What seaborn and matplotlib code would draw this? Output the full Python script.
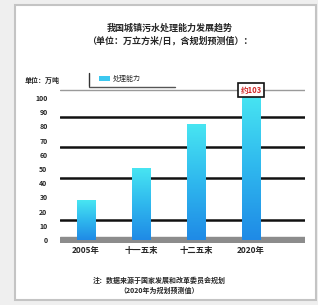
import numpy as np
import pandas as pd
import matplotlib
matplotlib.use("Agg")
import matplotlib.pyplot as plt
from matplotlib.patches import Rectangle, Patch
from matplotlib.lines import Line2D
import seaborn as sns

# ---- data ----
categories = ["2005年", "十一五末", "十二五末", "2020年"]
values = [28, 51, 82, 103]
y_ticks = [0, 10, 20, 30, 40, 50, 60, 70, 80, 90, 100]
grid_levels = [14, 44, 65.5, 86.5]
title_lines = ["我国城镇污水处理能力发展趋势", "（单位：万立方米/日，含规划预测值）："]
unit_label = "单位：万吨"
legend_label = "处理能力"
note_label = "约103"
foot_lines = ["注：数据来源于国家发展和改革委员会规划", "（2020年为规划预测值）"]

sns.set_theme(style="white")
plt.rcParams["font.family"] = ["Noto Sans CJK SC", "DejaVu Sans"]

W, H = 318, 305
fig = plt.figure(figsize=(W / 100, H / 100), dpi=100)
fig.patch.set_facecolor("#efefef")
fig.patches.append(Rectangle((15 / W, 5 / H), 301 / W, 295 / H, transform=fig.transFigure,
                             facecolor="white", edgecolor="#c4c4c4", lw=1.5, zorder=-5))

ax = fig.add_axes([60 / W, (H - 243) / H, 245 / W, 155 / H])
ax.set_zorder(2)
ax.set_facecolor("none")
df = pd.DataFrame({"cat": categories, "val": values})
sns.barplot(data=df, x="cat", y="val", ax=ax, color="#2aa8ea", width=0.33, zorder=3)

XL = (-0.47, 3.98)
YL = (-2.1, 107)

# gradient fill on bars
grad = np.linspace(0, 1, 256).reshape(-1, 1)
cmap = matplotlib.colors.LinearSegmentedColormap.from_list("g", ["#1f8ae6", "#2fb8ee", "#48e6f2"])
for p in ax.patches:
    x0, y0 = p.get_x(), p.get_y()
    w, h = p.get_width(), p.get_height()
    im = ax.imshow(grad, extent=[x0, x0 + w, y0, y0 + h], origin="lower", cmap=cmap,
                   aspect="auto", zorder=3)
    im.set_clip_path(p)
    p.set_facecolor("none")
    p.set_edgecolor("none")
ax.set_xlim(*XL)
ax.set_ylim(*YL)

# grid lines and floor
for g in grid_levels:
    ax.axhline(g, color="#111111", lw=1.8, zorder=1)
ax.axhline(105.5, color="#9a9a9a", lw=1.0, zorder=1)
ax.axhspan(YL[0], 1.8, color="#8c8c8c", zorder=2)

for s in ax.spines.values():
    s.set_visible(False)
ax.set_yticks(y_ticks)
ax.set_yticklabels([str(t) for t in y_ticks], fontsize=5, fontweight="bold")
ax.tick_params(axis="y", length=0, pad=9)
ax.tick_params(axis="x", length=0, pad=2, labelsize=6)
for lbl in ax.get_xticklabels():
    lbl.set_fontweight("bold")
ax.set_xlabel("")
ax.set_ylabel("")

# annotation on last bar
ax.text(3, values[-1] + 2.5, note_label, ha="center", va="center", fontsize=5.5, color="#d02828",
        fontweight="bold",
        bbox=dict(boxstyle="square,pad=0.35", facecolor="white", edgecolor="#111111", lw=1.2), zorder=5)

# title, unit, legend, footnote
fig.text(0.535, (H - 28) / H, title_lines[0], ha="center", va="center", fontsize=6.5, fontweight="bold")
fig.text(0.535, (H - 41) / H, title_lines[1], ha="center", va="center", fontsize=6.5, fontweight="bold")
fig.text(25 / W, (H - 80) / H, unit_label, ha="left", va="center", fontsize=5, fontweight="bold")
fig.legend(handles=[Patch(facecolor="#3cc8f0", edgecolor="none")], labels=[legend_label],
           loc="center left", bbox_to_anchor=(95 / W, (H - 79) / H), frameon=False, fontsize=5,
           handlelength=1.5, handleheight=0.8, handletextpad=0.4, borderpad=0.1)
fig.lines.append(Line2D([89 / W, 89 / W], [(H - 86) / H, (H - 73) / H], transform=fig.transFigure,
                        color="#333333", lw=1))
fig.lines.append(Line2D([89 / W, 175 / W], [(H - 87) / H, (H - 87) / H], transform=fig.transFigure,
                        color="#555555", lw=1))
fig.text(0.5, (H - 280) / H, foot_lines[0], ha="center", va="center", fontsize=5, fontweight="bold")
fig.text(0.5, (H - 290) / H, foot_lines[1], ha="center", va="center", fontsize=5, fontweight="bold")

fig.savefig("out.png", dpi=100, facecolor=fig.get_facecolor())
